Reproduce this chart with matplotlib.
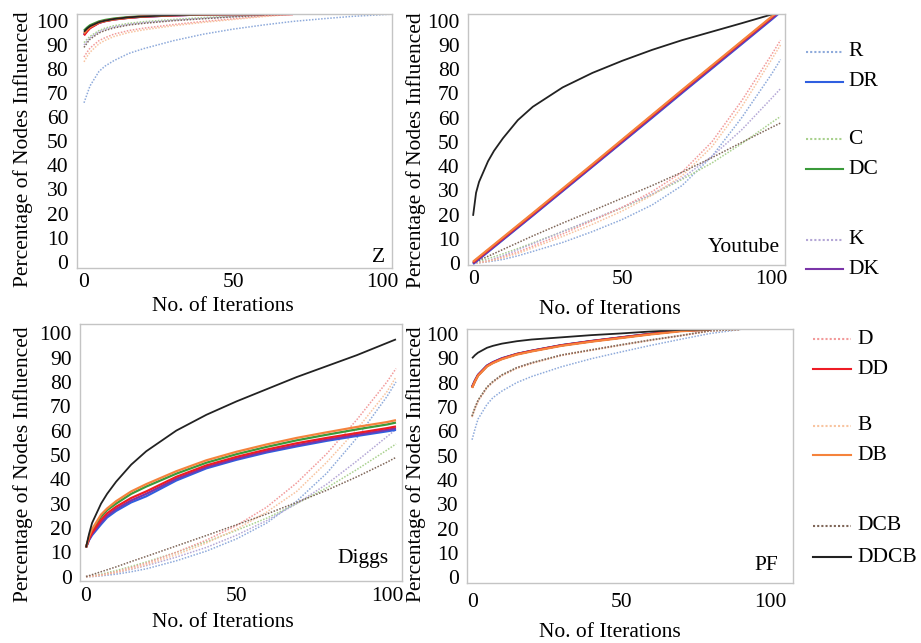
import numpy as np
import matplotlib
matplotlib.use("Agg")
import matplotlib.pyplot as plt
from matplotlib.lines import Line2D

plt.rcParams['font.family'] = ['Liberation Serif', 'DejaVu Serif']

# #############################################################################
# Datos (porcentaje de nodos influenciados por iteracion)

ITER = [0, 1, 2, 5, 7, 10, 15, 20, 30, 40, 50, 60, 70, 80, 90, 100, 103]
N = None

# --- Z
z_R = [66, 69.5, 73, 79, 81.2, 83.5, 86.5, 88.5, 91.8, 94.5, 96.6, 98.3, 99.8, 100.9, 101.9, 102.6, 102.8]
z_DR = [94.5, 96, 97.3, 99.3, 100, 100.7, 101.4, 101.8, 102.3, 102.7, 102.8, 102.8, N, N, N, N, N]
z_C = [91, 92.4, 93.6, 96, 97, 98, 99, 99.7, 100.6, 101.4, 102, 102.6, 102.8, N, N, N, N]
z_DC = [96, 97.2, 98.2, 99.8, 100.4, 101, 101.6, 102, 102.5, 102.8, 102.8, 102.8, N, N, N, N, N]
z_K = [90, 91.6, 93, 95.5, 96.5, 97.5, 98.6, 99.3, 100.3, 101.1, 101.8, 102.4, 102.8, N, N, N, N]
z_DK = [94.2, 95.8, 97.1, 99.2, 99.9, 100.6, 101.3, 101.8, 102.3, 102.7, 102.8, 102.8, N, N, N, N, N]
z_D = [85, 87, 88.7, 91.8, 93, 94.5, 96, 97, 98.5, 99.8, 100.9, 102, 102.8, N, N, N, N]
z_DD = [94, 95.6, 97, 99.2, 99.9, 100.6, 101.3, 101.8, 102.3, 102.7, 102.8, 102.8, 102.8, N, N, N, N]
z_B = [83, 85.2, 87, 90.5, 91.9, 93.5, 95.2, 96.3, 98, 99.4, 100.6, 101.8, 102.8, N, N, N, N]
z_DB = [94.8, 96.3, 97.5, 99.4, 100, 100.7, 101.4, 101.9, 102.4, 102.7, 102.8, 102.8, N, N, N, N, N]
z_DCB = [89, 90.8, 92.4, 95, 96, 97.1, 98.3, 99, 100.1, 100.9, 101.7, 102.4, 102.8, N, N, N, N]
z_DDCB = [95.5, 96.8, 97.8, 99.5, 100.1, 100.8, 101.5, 101.9, 102.4, 102.7, 102.8, 102.8, N, N, N, N, N]

# --- Youtube
y_R = [0, 0.05, 0.1, 0.5, 0.9, 1.5, 3, 4.8, 8.5, 13, 18, 24, 32, 44, 60, 78, 84]
y_DR = [-0.4, 0.6, 1.6, 4.6, 6.6, 9.6, 14.6, 19.6, 29.7, 39.8, 49.9, 60, 70.2, 80.3, 90.4, 100.5, 103.6]
y_C = [0, 0.35, 0.7, 1.8, 2.6, 3.8, 6, 8.3, 13, 17.8, 22.8, 28.3, 34.5, 41.3, 49.3, 58, 60.5]
y_DC = [0, 1, 2, 5, 7, 10, 15, 20.1, 30.2, 40.3, 50.4, 60.6, 70.8, 80.9, 91, 101.1, 104.2]
y_K = [0, 0.15, 0.3, 1, 1.8, 3, 5.5, 8, 13, 18, 23, 28.5, 35, 44, 55, 68, 72]
y_DK = [-0.2, 0.8, 1.8, 4.8, 6.8, 9.8, 14.8, 19.8, 29.9, 40, 50.1, 60.3, 70.5, 80.6, 90.7, 100.8, 103.9]
y_D = [0, 0.1, 0.2, 0.8, 1.4, 2.5, 4.5, 7, 12, 17.5, 23, 29.5, 37.5, 50, 67, 86, 92]
y_DD = [0.3, 1.3, 2.3, 5.3, 7.3, 10.3, 15.3, 20.3, 30.4, 40.5, 50.7, 60.9, 71.1, 81.2, 91.3, 101.4, 104.5]
y_B = [0, 0.1, 0.2, 0.7, 1.3, 2.2, 4, 6.3, 11, 16, 21.5, 28, 36, 48, 64.5, 84, 90]
y_DB = [0.6, 1.6, 2.6, 5.6, 7.6, 10.6, 15.6, 20.6, 30.7, 40.8, 51, 61.2, 71.4, 81.5, 91.6, 101.7, 104.8]
y_DCB = [0, 0.55, 1.1, 2.8, 3.9, 5.6, 8.4, 11.2, 16.5, 21.6, 26.8, 32, 37.5, 43.5, 49.8, 56, 57.8]
y_DDCB = [19.5, 29, 33.5, 42, 46.3, 51.5, 59, 64.5, 72.5, 78.5, 83.5, 88, 92, 95.5, 99, 102.6, N]

# --- Diggs
d_R = [0, 0, 0, 0.3, 0.6, 1, 2, 3.2, 6.5, 10.5, 15.5, 22, 31, 42.5, 57, 74, 80]
d_DR = [12, 15, 17, 21.5, 24.3, 27, 30.5, 33, 39.5, 44.5, 48, 51, 53.5, 55.8, 57.8, 59.7, 60.3]
d_C = [0, 0.15, 0.3, 1, 1.6, 2.5, 4.2, 6, 10, 14.3, 19, 24, 30, 36.5, 44, 52, 54.5]
d_DC = [12, 16, 18.8, 24.6, 27.3, 30, 34, 37, 42.3, 46.8, 50.3, 53.3, 56, 58.3, 60.5, 62.5, 63.3]
d_K = [0, 0.1, 0.2, 0.6, 1, 1.6, 3, 4.5, 8, 12, 17, 23, 30, 38, 47.5, 57.5, 60.5]
d_DK = [12, 15.2, 17.5, 22.3, 25, 27.8, 31.3, 34, 40.2, 45, 48.5, 51.5, 54, 56.3, 58.3, 60.3, 61]
d_D = [0, 0.1, 0.2, 0.7, 1.2, 2, 3.7, 5.5, 10, 15, 21, 28.5, 38.5, 50.5, 64.5, 80, 85.5]
d_DD = [12, 15.5, 18, 23.3, 26, 28.7, 32.3, 35, 41, 45.7, 49.2, 52.2, 54.8, 57, 59, 61, 61.7]
d_B = [0, 0.05, 0.1, 0.5, 1, 1.7, 3.2, 4.9, 9, 13.8, 19.5, 26.5, 35, 47, 60.5, 76, 82]
d_DB = [12, 16.5, 19.5, 25.5, 28, 31, 35, 38, 43.3, 47.8, 51.3, 54.3, 57, 59.3, 61.5, 63.5, 64.3]
d_DCB = [0, 0.4, 0.8, 2, 2.8, 4, 6.2, 8.3, 12.6, 16.9, 21.3, 25.7, 30.5, 35.5, 41, 47, 49]
d_DDCB = [12, 17.5, 22, 30, 34, 39, 46, 51.5, 60, 66.5, 72, 77, 82, 86.5, 91, 96, 97.5]

# --- PF
p_R = [56.5, 61, 65, 71, 73.8, 76.5, 80, 82.5, 86.5, 89.8, 92.6, 95.3, 97.8, 100.2, 101.8, N, N]
p_DR = [78.3, 81, 83.2, 87, 88.4, 90, 91.8, 93.1, 95.4, 97.1, 98.6, 100.1, 101.4, 101.8, N, N, N]
p_C = [66.3, 69.8, 72.8, 78.2, 80.5, 83.2, 86.2, 88.2, 91.4, 93.5, 95.6, 97.6, 99.4, 101.4, 101.8, N, N]
p_DC = [78, 80.7, 83, 86.8, 88.2, 89.8, 91.7, 93, 95.3, 97, 98.5, 100, 101.3, 101.8, N, N, N]
p_K = [66.1, 69.6, 72.6, 78.1, 80.4, 83.1, 86.1, 88.1, 91.3, 93.4, 95.5, 97.5, 99.3, 101.3, 101.8, N, N]
p_DK = [78.1, 80.8, 83.1, 86.9, 88.3, 89.9, 91.7, 93, 95.3, 97, 98.5, 100, 101.3, 101.8, N, N, N]
p_D = [66, 69.5, 72.5, 78, 80.3, 83, 86, 88, 91.3, 93.4, 95.5, 97.5, 99.3, 101.3, 101.8, N, N]
p_DD = [78, 80.7, 83, 86.8, 88.2, 89.8, 91.7, 93, 95.3, 97, 98.5, 100, 101.3, 101.8, N, N, N]
p_B = [65.8, 69.3, 72.3, 77.8, 80.1, 82.8, 85.8, 87.8, 91.1, 93.2, 95.3, 97.3, 99.2, 101.2, 101.8, N, N]
p_DB = [77.8, 80.5, 82.8, 86.6, 88, 89.6, 91.5, 92.8, 95.1, 96.8, 98.3, 99.8, 101.1, 101.8, N, N, N]
p_DCB = [66.2, 69.7, 72.7, 78.1, 80.4, 83.1, 86.1, 88.1, 91.3, 93.4, 95.5, 97.5, 99.3, 101.3, 101.8, N, N]
p_DDCB = [90, 91.3, 92.3, 94.3, 95.1, 96, 97, 97.7, 98.6, 99.5, 100.2, 101, 101.7, 101.8, N, N, N]

SERIES = ['R', 'DR', 'C', 'DC', 'K', 'DK', 'D', 'DD', 'B', 'DB', 'DCB', 'DDCB']

# estilo de cada serie: (color, linea, grosor)
PUNTOS = (0, (1, 1))
estilos = {
    'R': ('#8eaadb', PUNTOS, 1.1),
    'DR': ('#2f5fe0', '-', 1.6),
    'C': ('#a9d18e', PUNTOS, 1.1),
    'DC': ('#3a9a3a', '-', 1.6),
    'K': ('#b4a7d6', PUNTOS, 1.1),
    'DK': ('#7a35a8', '-', 1.6),
    'D': ('#f29a9a', PUNTOS, 1.1),
    'DD': ('#ee1c25', '-', 1.6),
    'B': ('#f8c4a0', PUNTOS, 1.1),
    'DB': ('#f5833c', '-', 1.6),
    'DCB': ('#7f6658', PUNTOS, 1.1),
    'DDCB': ('#222222', '-', 1.3),
}

paneles = [
    # nombre, datos, caja en px (x0, x1, y0, y1), xlim, ylim, posiciones de textos
    ('Z', [z_R, z_DR, z_C, z_DC, z_K, z_DK, z_D, z_DD, z_B, z_DB, z_DCB, z_DDCB],
     (76.7, 392, 13.7, 268), (-2.45, 103.2), (-2.6, 103),
     (0.464, -0.153), (-0.170, 0.468), (0.978, 0.043), 3.5),
    ('Youtube', [y_R, y_DR, y_C, y_DC, y_K, y_DK, y_D, y_DD, y_B, y_DB, y_DCB, y_DDCB],
     (468, 785, 14, 265), (-1.7, 104.5), (-0.8, 102.8),
     (0.448, -0.179), (-0.164, 0.458), (0.984, 0.068), 3.5),
    ('Diggs', [d_R, d_DR, d_C, d_DC, d_K, d_DK, d_D, d_DD, d_B, d_DB, d_DCB, d_DDCB],
     (80, 402, 324, 581), (-2.0, 105.0), (-1.8, 103.8),
     (0.444, -0.163), (-0.177, 0.455), (0.957, 0.089), 4.5),
    ('PF', [p_R, p_DR, p_C, p_DC, p_K, p_DK, p_D, p_DD, p_B, p_DB, p_DCB, p_DDCB],
     (467, 793, 329.3, 583.3), (-1.7, 107.7), (-2.5, 101.9),
     (0.439, -0.192), (-0.156, 0.470), (0.954, 0.072), 7.0),
]

W, H = 921, 643
fig = plt.figure(figsize=(W / 100, H / 100), dpi=100)
FS = 15.5

for nombre, datos, caja, xlim, ylim, pos_xl, pos_yl, pos_nombre, xpad in paneles:
    x0, x1, y0, y1 = caja
    ax = fig.add_axes([x0 / W, 1 - y1 / H, (x1 - x0) / W, (y1 - y0) / H])
    # primero las punteadas, despues las solidas
    orden = [s for s in SERIES if estilos[s][1] != '-'] + \
            [s for s in SERIES if estilos[s][1] == '-']
    for s in orden:
        col, ls, lw = estilos[s]
        vals = np.array(datos[SERIES.index(s)], dtype=float)
        ax.plot(ITER, vals, color=col, linestyle=ls, linewidth=lw,
                solid_capstyle='butt')
    ax.set_xlim(*xlim)
    ax.set_ylim(*ylim)
    ax.set_xticks([0, 50, 100])
    ax.set_yticks(range(0, 101, 10))
    ax.tick_params(length=0, labelsize=FS)
    ax.tick_params(axis='y', pad=6)
    ax.tick_params(axis='x', pad=xpad)
    for sp in ax.spines.values():
        sp.set_color('#c4c4c4')
        sp.set_linewidth(1.0)
    ax.set_xlabel('No. of Iterations', fontsize=FS)
    ax.xaxis.set_label_coords(*pos_xl)
    ax.xaxis.label.set_va('center')
    ax.set_ylabel('Percentage of Nodes Influenced', fontsize=FS)
    ax.yaxis.set_label_coords(*pos_yl)
    ax.yaxis.label.set_va('center')
    ax.text(pos_nombre[0], pos_nombre[1], nombre, transform=ax.transAxes,
            ha='right', va='center', fontsize=FS)

# #############################################################################
# Leyenda manual a la derecha (pares punteada / solida)

leyenda_y = [52, 82, 139, 169, 240, 269, 339, 369, 426, 455, 526, 557]
for i, s in enumerate(SERIES):
    col, ls, lw = estilos[s]
    if i < 6:
        lx0, lx1, tx = 806, 843, 848
    else:
        lx0, lx1, tx = 813, 851, 857
    yy = 1 - leyenda_y[i] / H
    fig.add_artist(Line2D([lx0 / W, lx1 / W], [yy, yy], transform=fig.transFigure,
                          color=col, linestyle=ls, linewidth=1.5))
    fig.text(tx / W, yy, s, ha='left', va='center', fontsize=FS)

fig.savefig('out.png', dpi=100)
